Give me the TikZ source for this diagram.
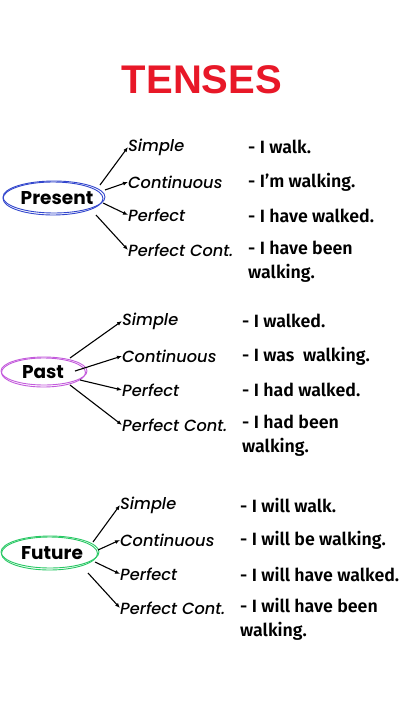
\documentclass[tikz,border=0pt]{standalone}
\usepackage{fontspec}
\setmainfont{Poppins}
\newfontfamily\titlefont{Liberation Sans}
\newfontfamily\lblfont{Poppins Medium Italic}
\newfontfamily\ansfont{Fira Sans}[UprightFont=* SemiBold, BoldFont=* SemiBold]
\usetikzlibrary{arrows.meta,shapes.geometric}
\definecolor{tred}{RGB}{232,24,40}
\definecolor{pblue}{RGB}{50,70,205}
\definecolor{ppurple}{RGB}{195,90,220}
\definecolor{fgreen}{RGB}{40,200,100}
\tikzset{
  lbl/.style={anchor=west,inner sep=0pt,font=\lblfont\fontsize{16.2}{18}\selectfont},
  ans/.style={anchor=west,inner sep=0pt,align=left,font=\ansfont\fontsize{17.8}{24}\selectfont},
  tense/.style={inner sep=0pt,font=\fontsize{18.5}{20}\selectfont\bfseries},
  arr/.style={-{Latex[length=5pt,width=4pt]},line width=1.1pt},
  ring/.style={line width=0.9pt}
}
\begin{document}
\begin{tikzpicture}[x=1pt,y=-1pt]
\useasboundingbox[fill=white] (0,0) rectangle (405,720);
\node[font=\titlefont\bfseries\fontsize{40}{44}\selectfont,text=tred,inner sep=0pt] (title) at (202,80) {TENSES};

% Present
\draw[ring,pblue] (54,197) ellipse [x radius=51,y radius=16];
\draw[ring,pblue] (53,198.5) ellipse [x radius=50,y radius=16.5];
\node[tense] (pres) at (57,198) {Present};
\coordinate (p1) at (100,185);
\coordinate (p2) at (105,190);
\coordinate (p3) at (103,203);
\coordinate (p4) at (96,215);
\node[lbl] (ps) at (128,147) {Simple};
\node[lbl] (pc) at (128,182) {Continuous};
\node[lbl] (pp) at (128,215) {Perfect};
\node[lbl] (ppc) at (128,250) {Perfect Cont.};
\draw[arr] (p1) -- (ps.west);
\draw[arr] (p2) -- (pc.west);
\draw[arr] (p3) -- (pp.west);
\draw[arr] (p4) -- (ppc.west);
\node[ans] (pa1) at (248,147) {- I walk.};
\node[ans] (pa2) at (248,182) {- I’m walking.};
\node[ans] (pa3) at (248,216) {- I have walked.};
\node[ans,anchor=north west] (pa4) at (248,241) {- I have been\\walking.};

% Past
\draw[ring,ppurple] (44,371) ellipse [x radius=43,y radius=14];
\draw[ring,ppurple] (43.5,372.5) ellipse [x radius=42,y radius=14.5];
\node[tense] (past) at (43,372) {Past};
\coordinate (q1) at (70,358);
\coordinate (q2) at (75,371);
\coordinate (q3) at (80,380);
\coordinate (q4) at (70,385);
\node[lbl] (qs) at (122,321) {Simple};
\node[lbl] (qc) at (122,356) {Continuous};
\node[lbl] (qp) at (122,390) {Perfect};
\node[lbl] (qpc) at (122,425) {Perfect Cont.};
\draw[arr] (q1) -- (qs.west);
\draw[arr] (q2) -- (qc.west);
\draw[arr] (q3) -- (qp.west);
\draw[arr] (q4) -- (qpc.west);
\node[ans] (qa1) at (242,321) {- I walked.};
\node[ans] (qa2) at (242,356) {- I was\ \ walking.};
\node[ans] (qa3) at (242,390) {- I had walked.};
\node[ans,anchor=north west] (qa4) at (242,415) {- I had been\\walking.};

% Future
\draw[ring,fgreen] (50,552) ellipse [x radius=49,y radius=16];
\draw[ring,fgreen] (49.5,553.5) ellipse [x radius=48,y radius=16.5];
\node[tense] (fut) at (52,553) {Future};
\coordinate (f1) at (93,542);
\coordinate (f2) at (98,550);
\coordinate (f3) at (95,562);
\coordinate (f4) at (88,573);
\node[lbl] (fs) at (120,505) {Simple};
\node[lbl] (fc) at (120,540) {Continuous};
\node[lbl] (fp) at (120,574) {Perfect};
\node[lbl] (fpc) at (120,608) {Perfect Cont.};
\draw[arr] (f1) -- (fs.west);
\draw[arr] (f2) -- (fc.west);
\draw[arr] (f3) -- (fp.west);
\draw[arr] (f4) -- (fpc.west);
\node[ans] (fa1) at (240,505) {- I will walk.};
\node[ans] (fa2) at (240,540) {- I will be walking.};
\node[ans] (fa3) at (240,574) {- I will have walked.};
\node[ans,anchor=north west] (fa4) at (240,598) {- I will have been\\walking.};
\end{tikzpicture}
\end{document}
